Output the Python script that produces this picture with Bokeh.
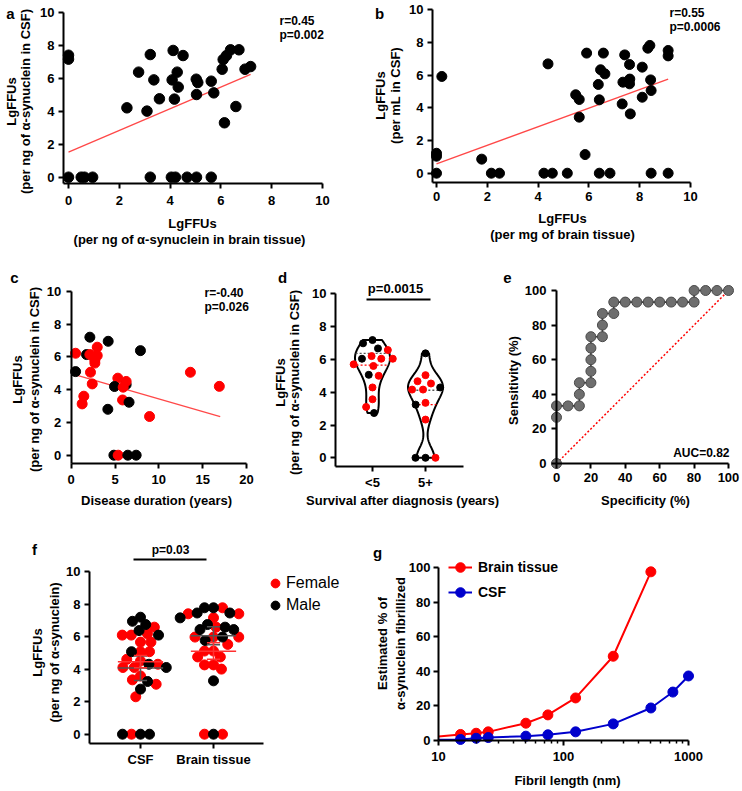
import numpy as np
from math import pi, log10
from bokeh.plotting import figure
from bokeh.layouts import column, row
from bokeh.models import Label, FixedTicker, Legend, LegendItem, Range1d
from bokeh.embed import file_html
from bokeh.resources import INLINE

FONT = "Liberation Sans"
RED = "#FF0000"
FIT = "#FF4848"
BLUE = "#0000CC"

# ---------------- data ----------------
# panel a: brain tissue vs CSF (per ng a-syn)
a_brain = [0, 0, 2.3, 2.76, 3.09, 3.22, 3.36, 3.58, 4.08, 4.12, 4.28, 4.17, 4.32, 4.51, 5.03, 5.09,
           5.04, 5.62, 5.72, 6.05, 6.09, 6.22, 6.38, 6.14, 6.59, 6.71, 6.95, 7.17,
           0, 0.5, 0.63, 0.95, 3.22, 4.05, 4.21, 4.67, 5.04, 5.62]
a_csf = [7.42, 7.18, 4.22, 6.39, 4.02, 7.46, 5.92, 4.77, 5.92, 7.71, 6.39, 4.75, 5.48, 7.4, 5.96, 5.76,
         5.03, 5.84, 5.13, 6.57, 7.16, 7.4, 7.75, 3.31, 4.3, 7.75, 6.57, 6.73,
         0, 0, 0, 0, 0, 0, 0, 0, 0, 0]
a_fit_x = [0, 7.17]
a_fit_y = [1.52, 6.25]
a_stats = ["r=0.45", "p=0.002"]

# panel b: per mg brain vs per mL CSF
b_brain = [0, 0, 0, 0.21, 1.78, 2.16, 2.48, 4.39, 4.23, 4.56, 5.15, 5.48, 5.62, 5.62, 5.85, 5.91, 6.37,
           6.41, 6.46, 6.63, 6.57, 6.41, 6.83, 7.31, 7.34, 7.41, 7.6, 7.61, 7.6, 7.63, 8.1, 8.1, 8.32,
           8.4, 8.43, 8.45, 8.45, 9.12, 9.12, 9.12]
b_csf = [1.22, 1.04, 0, 5.92, 0.86, 0, 0, 6.69, 0, 0, 0, 4.8, 4.51, 3.43, 1.14, 7.35, 5.43,
         4.49, 6.33, 6.08, 7.35, 0, 0, 4.24, 5.57, 7.24, 6.65, 5.76, 5.47, 3.63, 6.49, 4.65, 7.65,
         7.82, 5.71, 5.06, 0, 7.51, 7.18, 0]
b_fit_x = [0, 9.12]
b_fit_y = [0.57, 5.76]
b_stats = ["r=0.55", "p=0.0006"]

# panel c: disease duration vs CSF LgFFUs
c_dur = [0.5, 0.5, 2.13, 1.75, 2.13, 2.97, 2.97, 2.7, 2.7, 2.2, 2.4, 1.44, 1.25, 4.22, 4.18, 5.32, 4.94,
         6.27, 6.27, 5.93, 5.86, 6.6, 7.9, 8.94, 13.6, 16.9, 4.87, 5.36, 6.46, 7.41]
c_val = [6.22, 5.1, 7.2, 6.14, 6.14, 6.59, 6.08, 5.8, 5.62, 5.06, 4.35, 3.6, 3.13, 6.95, 2.8, 4.7, 4.19,
         4.31, 4.5, 4.15, 3.37, 3.23, 6.38, 2.36, 5.06, 4.2, 0, 0, 0, 0]
c_sex = ['F', 'M', 'M', 'M', 'F', 'F', 'F', 'F', 'F', 'F', 'F', 'F', 'F', 'M', 'M', 'F', 'M',
         'M', 'F', 'F', 'F', 'M', 'M', 'F', 'F', 'F', 'M', 'F', 'M', 'M']
c_fit_x = [0.4, 17.0]
c_fit_y = [4.92, 2.36]
c_stats = ["r=-0.40", "p=0.026"]

# panel d: survival after diagnosis
d_cats = ["<5", "5+"]
d_lt5 = [6.98, 7.18, 6.57, 6.67, 6.04, 6.04, 6.2, 6.04, 5.6, 5.7, 5.0, 5.06, 4.29, 3.57, 3.1, 2.73]
d_lt5_sex = ['M', 'M', 'F', 'M', 'F', 'M', 'F', 'F', 'F', 'F', 'F', 'M', 'F', 'F', 'F', 'M']
d_5p = [6.37, 5.04, 4.67, 4.53, 4.16, 4.29, 4.16, 3.24, 3.35, 2.33, 0, 0, 0]
d_5p_sex = ['M', 'F', 'F', 'F', 'F', 'M', 'F', 'M', 'F', 'F', 'M', 'M', 'F']
d_line_dark = [6.37, 4.12]
d_line_red = [5.65, 3.24]
d_p = "p=0.0015"

# panel e: ROC
roc_spec = [0, 0, 0, 6.7, 13.3, 13.3, 13.3, 20, 20, 20, 20, 20, 26.7, 26.7, 26.7, 33.3, 33.3,
            40, 46.7, 53.3, 60, 66.7, 73.3, 80, 80, 86.7, 93.3, 100]
roc_sens = [0, 26.7, 33.3, 33.3, 33.3, 40, 46.7, 46.7, 53.3, 60, 66.7, 73.3, 73.3, 80, 86.7, 86.7, 93.3,
            93.3, 93.3, 93.3, 93.3, 93.3, 93.3, 93.3, 100, 100, 100, 100]
roc_chance = [0, 100]
roc_auc = "AUC=0.82"

# panel f: CSF vs brain tissue by sex
f_cats = ["CSF", "Brain tissue"]
f_csf = [7.19, 6.74, 6.94, 6.58, 6.37, 6.09, 6.17, 6.09, 6.09, 5.66, 5.66, 5.07, 5.07, 5.07, 4.6, 4.5,
         4.3, 4.1, 4.1, 4.1, 4.3, 3.58, 3.07, 3.24, 3.34, 2.77, 2.3, 0, 0, 0, 0]
f_csf_sex = ['M', 'M', 'M', 'F', 'M', 'F', 'F', 'M', 'F', 'F', 'F', 'F', 'M', 'F', 'F', 'F',
             'M', 'F', 'F', 'M', 'F', 'F', 'F', 'M', 'F', 'M', 'F', 'M', 'F', 'M', 'M']
f_brain = [7.4, 7.77, 7.45, 7.77, 7.45, 7.77, 7.4, 7.15, 7.15, 6.58, 6.58, 6.43, 6.43, 6.74, 5.97, 5.97,
           5.76, 5.97, 5.97, 5.11, 5.52, 5.11, 4.75, 4.75, 4.26, 4.0, 4.26, 3.28, 0, 0, 0]
f_brain_sex = ['F', 'M', 'M', 'M', 'M', 'F', 'F', 'F', 'M', 'F', 'M', 'M', 'M', 'M', 'F', 'M',
               'M', 'F', 'F', 'F', 'F', 'F', 'F', 'F', 'F', 'F', 'F', 'M', 'M', 'F', 'F']
f_female_mean = [4.46, 5.1]
f_female_lo = [4.08, 4.6]
f_female_hi = [4.84, 5.62]
f_male_mean = [4.07, 6.05]
f_male_lo = [3.3, 5.5]
f_male_hi = [4.8, 6.6]
f_p = "p=0.03"

# panel g: fibril length (first entry = where the curve meets the 10 nm axis, no marker)
g_brain_len = [10, 15, 20, 25, 50, 75, 125, 250, 500]
g_brain_pct = [2.3, 3.5, 4.2, 5.0, 10.0, 14.8, 24.6, 48.7, 97.5]
g_csf_len = [10, 15, 20, 25, 50, 75, 125, 250, 500, 750, 1000]
g_csf_pct = [0.4, 0.6, 1.3, 1.7, 2.5, 3.3, 5.0, 9.6, 18.8, 28.0, 37.3]

# ---------------- helpers ----------------
GEOM = {}


def _lin(p, m):
    (a, pa), (b, pb) = m
    return a + (p - pa) * (b - a) / (pb - pa)


def xval(name, px):
    g = GEOM[name]
    if g["log"]:
        (a, pa), (b, pb) = g["xm"]
        return 10 ** _lin(px, ((log10(a), pa), (log10(b), pb)))
    return _lin(px, g["xm"])


def yval(name, py):
    return _lin(py, GEOM[name]["ym"])


def pos(name, px, py):
    return xval(name, px), yval(name, py)


def make_fig(name, box, xm, ym, axis_px, axis_py, xend_px, ytop, xticks, yticks,
             xstand=5, ystand=4, xlog=False):
    fx, fy, fw, fh = box
    GEOM[name] = {"xm": xm, "ym": ym, "log": xlog}
    x0, x1 = xval(name, fx), xval(name, fx + fw)
    y0, y1 = yval(name, fy + fh), yval(name, fy)
    p = figure(width=fw, height=fh, x_range=Range1d(x0, x1), y_range=Range1d(y0, y1),
               x_axis_type="log" if xlog else "linear", output_backend="svg",
               toolbar_location=None, min_border=0)
    p.outline_line_color = None
    p.xgrid.visible = False
    p.ygrid.visible = False
    p.background_fill_color = "white"
    p.border_fill_color = "white"
    xa = xval(name, axis_px)
    ya = yval(name, axis_py)
    p.yaxis.fixed_location = xa
    p.xaxis.fixed_location = ya
    p.xaxis.bounds = (xa, xval(name, xend_px))
    p.yaxis.bounds = (ya, ytop)
    p.xaxis.ticker = FixedTicker(ticks=xticks)
    p.yaxis.ticker = FixedTicker(ticks=yticks)
    for ax in p.axis:
        ax.axis_line_width = 2
        ax.axis_line_color = "black"
        ax.major_tick_line_width = 2
        ax.major_tick_line_color = "black"
        ax.major_tick_in = 0
        ax.major_tick_out = 5
        ax.minor_tick_line_color = None
        ax.major_label_text_font = FONT
        ax.major_label_text_font_style = "bold"
        ax.major_label_text_font_size = "13px"
        ax.major_label_text_color = "black"
    p.xaxis.major_label_standoff = xstand
    p.yaxis.major_label_standoff = ystand
    return p


def txt(p, name, px, py, s, size=13, bold=True, align="center", angle=0.0):
    x, y = pos(name, px, py)
    p.add_layout(Label(x=x, y=y, text=s, text_font=FONT, text_font_size=f"{size}px",
                       text_font_style="bold" if bold else "normal", text_align=align,
                       text_baseline="middle", angle=angle, text_color="black"))


def scale(name):
    g = GEOM[name]
    (a, pa), (b, pb) = g["xm"]
    (c, qa), (d, qb) = g["ym"]
    return abs((pb - pa) / (b - a)), abs((qb - qa) / (d - c))


def swarm(vals, pxx, pxy, d):
    res = [0.0] * len(vals)
    placed = []
    order = sorted(range(len(vals)), key=lambda i: -vals[i])
    for i in order:
        y = vals[i] * pxy
        forb = []
        for xp, yp in placed:
            dy = abs(y - yp)
            if dy < d:
                w = (d * d - dy * dy) ** 0.5
                forb.append((xp - w, xp + w))
        cands = [0.0] + [e for iv in forb for e in iv]
        cands.sort(key=lambda c: (round(abs(c), 6), c))
        x = 0.0
        for c in cands:
            if all(not (lo + 1e-6 < c < hi - 1e-6) for lo, hi in forb):
                x = c
                break
        placed.append((x, y))
        res[i] = x / pxx
    return res


def colors(sexes):
    return [RED if s == 'F' else "black" for s in sexes]


T10 = [0, 2, 4, 6, 8, 10]
T100 = [0, 20, 40, 60, 80, 100]

# ---------------- panel a ----------------
pa = make_fig("a", (0, 0, 370, 255), ((0, 68), (10, 322)), ((0, 176.7), (10, 12.3)),
              63, 183, 322, 10, T10, T10, xstand=7)
pa.line(a_fit_x, a_fit_y, color=FIT, line_width=1.3)
pa.scatter(a_brain, a_csf, size=10.5, color="black")
txt(pa, "a", 10, 13, "a", size=15)
txt(pa, "a", 11, 101, "LgFFUs", angle=pi / 2)
txt(pa, "a", 25, 101, "(per ng of α-synuclein in CSF)", angle=pi / 2)
txt(pa, "a", 192, 223, "LgFFUs")
txt(pa, "a", 189, 239, "(per ng of α-synuclein in brain tissue)")
txt(pa, "a", 279, 20, a_stats[0], size=12, align="left")
txt(pa, "a", 279, 34, a_stats[1], size=12, align="left")

# ---------------- panel b ----------------
pb = make_fig("b", (370, 0, 372, 255), ((0, 436), (10, 690)), ((0, 172.7), (10, 9.3)),
              432, 182, 690, 10, T10, T10, xstand=4)
pb.line(b_fit_x, b_fit_y, color=FIT, line_width=1.3)
pb.scatter(b_brain, b_csf, size=10, color="black")
txt(pb, "b", 379, 13, "b", size=15)
txt(pb, "b", 380, 95, "LgFFUs", angle=pi / 2)
txt(pb, "b", 395, 95, "(per mL in CSF)", angle=pi / 2)
txt(pb, "b", 562, 218, "LgFFUs")
txt(pb, "b", 562, 234, "(per mg of brain tissue)")
txt(pb, "b", 669, 12, b_stats[0], size=12, align="left")
txt(pb, "b", 669, 26, b_stats[1], size=12, align="left")

# ---------------- panel c ----------------
pc = make_fig("c", (0, 255, 255, 260), ((0, 70.7), (20, 246)), ((0, 454.7), (10, 290.8)),
              70.7, 463, 246, 10, [0, 5, 10, 15, 20], T10, xstand=6, ystand=5)
pc.line(c_fit_x, c_fit_y, color=FIT, line_width=1.3)
pc.scatter(c_dur, c_val, size=10, color=colors(c_sex))
txt(pc, "c", 14, 277, "c", size=15)
txt(pc, "c", 17, 379, "LgFFUs", angle=pi / 2)
txt(pc, "c", 34, 379, "(per ng of α-synuclein in CSF)", angle=pi / 2)
txt(pc, "c", 156, 500, "Disease duration (years)")
txt(pc, "c", 204, 292, c_stats[0], size=12, align="left")
txt(pc, "c", 204, 306, c_stats[1], size=12, align="left")

# ---------------- panel d ----------------
pd_ = make_fig("d", (255, 255, 244, 260), ((1, 372), (2, 425)), ((0, 457.3), (10, 293.3)),
               335, 466, 463, 10, [1, 2], T10, xstand=3)
pd_.xaxis.major_label_overrides = {1: d_cats[0], 2: d_cats[1]}
dpxx, dpxy = scale("d")
for ci, (vals, sexes) in enumerate([(d_lt5, d_lt5_sex), (d_5p, d_5p_sex)]):
    center = ci + 1
    v = np.asarray(vals, float)
    grid = np.linspace(v.min(), v.max(), 160)
    dens = np.exp(-0.5 * ((grid[:, None] - v[None, :]) / 0.66) ** 2).sum(1)
    half = dens / dens.max() * 0.33
    xs = np.concatenate([center - half, (center + half)[::-1]])
    ys = np.concatenate([grid, grid[::-1]])
    pd_.patch(xs, ys, fill_color=None, line_color="black", line_width=2)
    for lv, lc in ((d_line_dark[ci], "#555555"), (d_line_red[ci], RED)):
        w = float(np.interp(lv, grid, half))
        pd_.line([center - w, center + w], [lv, lv], line_dash="2 2", color=lc, line_width=1.4)
    offs = swarm(vals, dpxx, dpxy, 10)
    pd_.scatter([center + o for o in offs], vals, size=7, color=colors(sexes))
txt(pd_, "d", 282, 277, "d", size=15)
txt(pd_, "d", 280, 382, "LgFFUs", angle=pi / 2)
txt(pd_, "d", 294, 382, "(per ng of α-synuclein in CSF)", angle=pi / 2)
txt(pd_, "d", 402, 500, "Survival after diagnosis (years)")
txt(pd_, "d", 395, 288, d_p, size=13)
bx0, by0 = pos("d", 366, 299)
bx1, _ = pos("d", 430, 299)
pd_.line([bx0, bx1], [by0, by0], color="black", line_width=2)

# ---------------- panel e ----------------
pe = make_fig("e", (499, 255, 243, 260), ((0, 556), (100, 728)), ((0, 463), (100, 290)),
              556, 463, 728, 100, T100, T100, xstand=4, ystand=5)
pe.line(roc_chance, roc_chance, color=RED, line_dash="2 2", line_width=1.5)
pe.line(roc_spec, roc_sens, color="#333333", line_width=1.6)
pe.scatter(roc_spec, roc_sens, size=10, fill_color="#6e6e6e", line_color="#4a4a4a", line_width=1)
txt(pe, "e", 507, 277, "e", size=15)
txt(pe, "e", 513, 380, "Sensitivity (%)", angle=pi / 2)
txt(pe, "e", 645, 500, "Specificity (%)")
txt(pe, "e", 729, 452, roc_auc, size=12, align="right")

# ---------------- panel f ----------------
pf = make_fig("f", (0, 515, 345, 276), ((1, 140), (2, 213)), ((0, 733.7), (10, 571)),
              89, 743, 263, 10, [1, 2], T10, xstand=3)
pf.xaxis.major_label_overrides = {1: f_cats[0], 2: f_cats[1]}
fpxx, fpxy = scale("f")
fx_f, fy_f, fx_m, fy_m = [], [], [], []
for ci, (vals, sexes) in enumerate([(f_csf, f_csf_sex), (f_brain, f_brain_sex)]):
    offs = swarm(vals, fpxx, fpxy, 9)
    for o, v, s in zip(offs, vals, sexes):
        if s == 'F':
            fx_f.append(ci + 1 + o)
            fy_f.append(v)
        else:
            fx_m.append(ci + 1 + o)
            fy_m.append(v)
rf = pf.scatter(fx_f, fy_f, size=10, color=RED)
rm = pf.scatter(fx_m, fy_m, size=10, color="black")
cats = [1, 2]
for means, lo, hi, col in ((f_male_mean, f_male_lo, f_male_hi, "#555555"),
                           (f_female_mean, f_female_lo, f_female_hi, "#FF3030")):
    pf.segment([c - 0.31 for c in cats], means, [c + 0.31 for c in cats], means, color=col, line_width=1.5)
    pf.segment(cats, lo, cats, hi, color=col, line_width=1.5)
    pf.segment([c - 0.09 for c in cats], lo, [c + 0.09 for c in cats], lo, color=col, line_width=1.5)
    pf.segment([c - 0.09 for c in cats], hi, [c + 0.09 for c in cats], hi, color=col, line_width=1.5)
txt(pf, "f", 34, 549, "f", size=15)
txt(pf, "f", 37, 652, "LgFFUs", angle=pi / 2)
txt(pf, "f", 54, 652, "(per ng of α-synuclein)", angle=pi / 2)
txt(pf, "f", 170, 549, f_p, size=12)
fbx0, fby0 = pos("f", 133, 559)
fbx1, _ = pos("f", 206, 559)
pf.line([fbx0, fbx1], [fby0, fby0], color="black", line_width=2)
leg_f = Legend(items=[LegendItem(label="Female", renderers=[rf]), LegendItem(label="Male", renderers=[rm])],
               location=(264, 175), orientation="vertical", border_line_color=None,
               background_fill_alpha=0, padding=0, margin=0, spacing=0,
               glyph_width=22, glyph_height=22, label_height=22, label_standoff=0,
               label_text_font=FONT, label_text_font_size="16px", label_text_color="black")
pf.add_layout(leg_f)

# ---------------- panel g ----------------
pg = make_fig("g", (345, 515, 397, 276), ((10, 438), (1000, 688)), ((0, 740), (100, 567)),
              438, 740, 688, 100, [10, 100, 1000], T100, xstand=6, ystand=3, xlog=True)
pg.xaxis.ticker = FixedTicker(ticks=[10, 100, 1000],
                              minor_ticks=[k * 10 ** e for e in (1, 2) for k in range(2, 10)])
pg.xaxis.major_label_overrides = {10: "10", 100: "100", 1000: "1000"}
pg.xaxis.minor_tick_line_color = "black"
pg.xaxis.minor_tick_line_width = 1.5
pg.xaxis.minor_tick_in = 0
pg.xaxis.minor_tick_out = 3
lb = pg.line(g_brain_len, g_brain_pct, color=RED, line_width=2)
sb = pg.scatter(g_brain_len[1:], g_brain_pct[1:], size=10, color=RED)
lc = pg.line(g_csf_len, g_csf_pct, color=BLUE, line_width=2)
sc = pg.scatter(g_csf_len[1:], g_csf_pct[1:], size=10, color=BLUE)
txt(pg, "g", 377, 552, "g", size=15)
txt(pg, "g", 382, 643, "Estimated % of", angle=pi / 2)
txt(pg, "g", 400, 643, "α-synuclein fibrillized", angle=pi / 2)
txt(pg, "g", 567, 780, "Fibril length (nm)")
leg_g = Legend(items=[LegendItem(label="Brain tissue", renderers=[lb, sb]),
                      LegendItem(label="CSF", renderers=[lc, sc])],
               location=(103, 187), orientation="vertical", border_line_color=None,
               background_fill_alpha=0, padding=0, margin=0, spacing=1,
               glyph_width=24, glyph_height=24, label_height=24, label_standoff=6,
               label_text_font=FONT, label_text_font_size="14px", label_text_font_style="bold",
               label_text_color="black")
pg.add_layout(leg_g)

layout = column(row(pa, pb), row(pc, pd_, pe), row(pf, pg))
open("out.html", "w").write(file_html(layout, INLINE))
